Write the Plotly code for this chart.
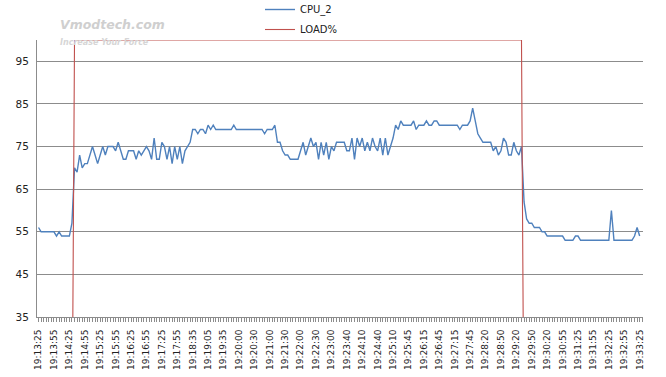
import plotly.graph_objects as go

time_labels = ["19:13:25","19:13:55","19:14:25","19:14:55","19:15:25","19:15:55","19:16:25","19:16:55",
               "19:17:25","19:17:55","19:18:35","19:19:05","19:19:35","19:20:00","19:20:30","19:21:00",
               "19:21:30","19:22:00","19:22:30","19:23:00","19:23:40","19:24:10","19:24:40","19:25:10",
               "19:25:45","19:26:15","19:26:45","19:27:15","19:27:45","19:28:20","19:28:50","19:29:20",
               "19:29:50","19:30:20","19:30:55","19:31:25","19:31:55","19:32:25","19:32:55","19:33:25"]
samples_per_label = 6

cpu_2 = [
    56,55,55,55,55,55,55,54,55,54,54,54,54,57,
    70,69,73,70,71,71,73,75,73,71,
    73,75,73,75,75,75,74,76,74,72,
    72,74,74,74,72,74,73,74,75,74,
    72,77,72,72,76,75,72,75,71,75,
    72,75,71,74,75,76,
    79,79,78,79,79,78,80,79,80,79,
    79,79,79,79,79,79,80,79,79,79,
    79,79,79,79,79,79,79,79,78,79,
    79,79,80,
    76,76,74,73,73,72,72,72,72,74,
    76,73,75,77,75,76,72,76,73,76,
    72,75,74,76,76,76,76,74,74,77,
    72,77,75,77,74,76,74,77,75,74,
    77,73,77,73,75,77,
    80,79,81,80,80,80,80,81,79,80,
    80,80,81,80,80,81,81,80,80,80,
    80,80,80,80,80,79,80,80,80,81,
    84,81,78,77,76,76,76,76,74,75,
    73,74,77,76,73,73,76,74,73,75,
    62,58,57,57,56,56,56,55,55,54,
    54,54,54,54,54,54,53,53,53,53,
    54,54,53,53,53,53,53,53,53,53,
    53,53,53,53,60,53,53,53,53,53,
    53,53,53,54,56,54,
]
load_pct = [0]*14 + [100]*175 + [0]*46

sample_idx = list(range(len(cpu_2)))
tick_pos = [i * samples_per_label for i in range(len(time_labels))]
y_ticks = [35, 45, 55, 65, 75, 85, 95]

grid = "#8c8c8c"
fig = go.Figure()
fig.add_trace(go.Scatter(x=sample_idx, y=cpu_2, mode="lines", name="CPU_2",
                         line=dict(color="#4F81BD", width=1.4), legendgroup="a"))
fig.add_trace(go.Scatter(x=sample_idx, y=load_pct, mode="lines", name="LOAD%",
                         line=dict(color="#C0504D", width=1.1), legendgroup="b"))

fig.update_layout(
    width=666, height=377,
    margin=dict(l=37, r=23, t=40, b=60, autoexpand=False),
    paper_bgcolor="white", plot_bgcolor="white",
    font=dict(family="DejaVu Sans", size=10, color="#222222"),
    showlegend=True,
    legend=dict(xref="paper", yref="paper", x=(260-37)/606, y=1 + 45/277,
                xanchor="left", yanchor="top",
                font=dict(family="DejaVu Sans", size=10, color="#222222"),
                tracegroupgap=1, bgcolor="rgba(0,0,0,0)"),
    xaxis=dict(range=[-0.6, 235.3], tickmode="array", tickvals=tick_pos, ticktext=time_labels,
               tickangle=-90, ticks="outside", ticklen=4, tickcolor=grid, automargin=False,
               showgrid=False, showline=True, linecolor=grid, linewidth=1, ticklabelstandoff=4,
               zeroline=False, tickfont=dict(family="DejaVu Sans", size=9, color="#222222"),
               minor=dict(tickmode="linear", tick0=0, dtick=1, ticks="outside", ticklen=4,
                          tickcolor=grid, showgrid=False)),
    yaxis=dict(range=[35, 100], tickmode="array", tickvals=y_ticks, automargin=False,
               showgrid=True, gridcolor=grid, gridwidth=1.4,
               showline=True, linecolor=grid, linewidth=1, zeroline=False,
               ticks="", ticklabelstandoff=5,
               tickfont=dict(family="DejaVu Sans", size=10.5, color="#222222")),
)

fig.add_annotation(xref="paper", yref="paper", x=(58-37)/606, y=1+(40-25)/277,
                   xanchor="left", yanchor="middle", showarrow=False,
                   text="<b><i>Vmodtech.com</i></b>",
                   font=dict(family="DejaVu Sans", size=12.5, color="#cfcfcf"))
fig.add_annotation(xref="paper", yref="paper", x=(58-37)/606, y=1+(40-42)/277,
                   xanchor="left", yanchor="middle", showarrow=False,
                   text="<b><i>Increase Your Force</i></b>",
                   font=dict(family="DejaVu Sans", size=8, color="#d6d6d6"))

fig.write_html("out.html", config={"displayModeBar": False},
               post_script="document.body.style.margin='0';document.body.style.overflow='hidden';")
